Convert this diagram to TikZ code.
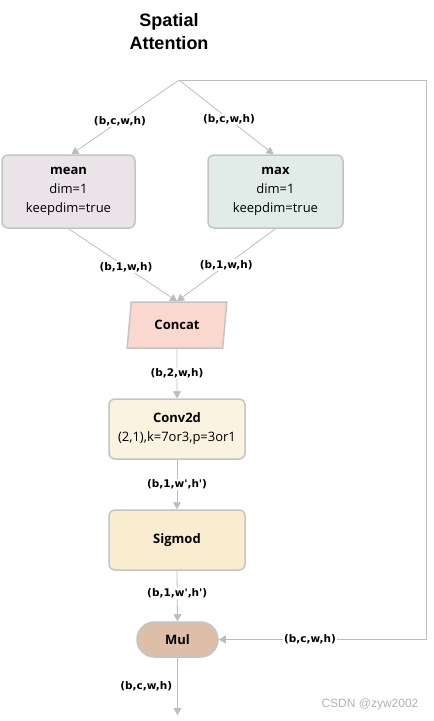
\documentclass[tikz,border=0pt]{standalone}
\usepackage{fontspec}
\setmainfont{Open Sans}
\newfontfamily\tagfont{DejaVu Sans}
\newfontfamily\headfont{Liberation Sans}
\usetikzlibrary{shapes.geometric}
\usetikzlibrary{shapes.misc}
\usetikzlibrary{arrows.meta}

\definecolor{edgegray}{HTML}{BDBDBD}
\definecolor{boxgray}{HTML}{C4C4C4}
\definecolor{meanfill}{HTML}{EAE4E9}
\definecolor{maxfill}{HTML}{E1EBE7}
\definecolor{catfill}{HTML}{FAD8D0}
\definecolor{convfill}{HTML}{F9F3E0}
\definecolor{sigfill}{HTML}{FAEDCF}
\definecolor{mulfill}{HTML}{DDBFA9}

\tikzset{
  opbox/.style={rectangle, rounded corners=6pt, line width=1.5pt, draw=boxgray, align=center, inner sep=0pt, font=\fontsize{13}{19}\selectfont},
  flow/.style={line width=0.8pt, ->, >={Triangle[length=7pt, width=8pt]}, color=edgegray},
  shape tag/.style={fill=white, inner sep=1pt, text=black, font=\tagfont\bfseries\fontsize{10.5}{12}\selectfont}
}

\begin{document}
\begin{tikzpicture}
\useasboundingbox (0pt, 0pt) rectangle (434pt, -721pt);
\node (title) [align=center, font=\headfont\bfseries\fontsize{18}{23}\selectfont] at (169pt, -32pt) {Spatial\\Attention};
\coordinate (split) at (179pt, -80pt);
\coordinate (corner1) at (426pt, -80pt);
\coordinate (corner2) at (426pt, -639.5pt);
\node (mean) [opbox, fill=meanfill, minimum width=133pt, minimum height=73pt] at (68.5pt, -191.5pt) {\textbf{mean}\\dim=1\\keepdim=true};
\node (max) [opbox, fill=maxfill, minimum width=135pt, minimum height=73pt] at (275.5pt, -191.5pt) {\textbf{max}\\dim=1\\keepdim=true};
\node (concat) [trapezium, trapezium left angle=78, trapezium right angle=102, trapezium stretches=true, minimum width=100pt, minimum height=46pt, inner sep=0pt, fill=catfill, line width=1.5pt, draw=boxgray, font=\bfseries\fontsize{13}{15}\selectfont] at (177pt, -325pt) {Concat};
\node (conv) [opbox, fill=convfill, minimum width=136pt, minimum height=60pt] at (177pt, -429pt) {\textbf{Conv2d}\\(2,1),k=7or3,p=3or1};
\node (sig) [opbox, fill=sigfill, minimum width=136pt, minimum height=60pt, font=\bfseries\fontsize{13}{15}\selectfont] at (177pt, -540pt) {Sigmod};
\node (mul) [rounded rectangle, minimum width=81pt, minimum height=35pt, inner sep=0pt, fill=mulfill, line width=1.5pt, draw=boxgray, font=\bfseries\fontsize{13}{15}\selectfont] at (177.5pt, -639.5pt) {Mul};
\coordinate (out) at (177.5pt, -715pt);
\node (mark) [text=black!30, font=\headfont\fontsize{12}{14}\selectfont] at (370pt, -704pt) {CSDN @zyw2002};

\draw [flow] (split) to node[shape tag, pos=0.55] {(b,c,w,h)} ([xshift=3pt]mean.north);
\draw [flow] (split) to node[shape tag, pos=0.53] {(b,c,w,h)} ([xshift=-2pt]max.north);
\draw [flow] (mean.south) to node[shape tag, pos=0.53] {(b,1,w,h)} (concat.north);
\draw [flow] (max.south) to node[shape tag, pos=0.5] {(b,1,w,h)} (concat.north);
\draw [flow] (concat.south) to node[shape tag] {(b,2,w,h)} (conv.north);
\draw [flow] (conv.south) to node[shape tag] {(b,1,w',h')} (sig.north);
\draw [flow] (sig.south) to node[shape tag, pos=0.45] {(b,1,w',h')} (mul.north);
\draw [flow] (mul.south) to node[shape tag, left, xshift=-4pt] {(b,c,w,h)} (out);
\draw [flow] (split) -- (corner1) -- (corner2) -- node[shape tag, pos=0.56] {(b,c,w,h)} (mul.east);
\end{tikzpicture}
\end{document}
